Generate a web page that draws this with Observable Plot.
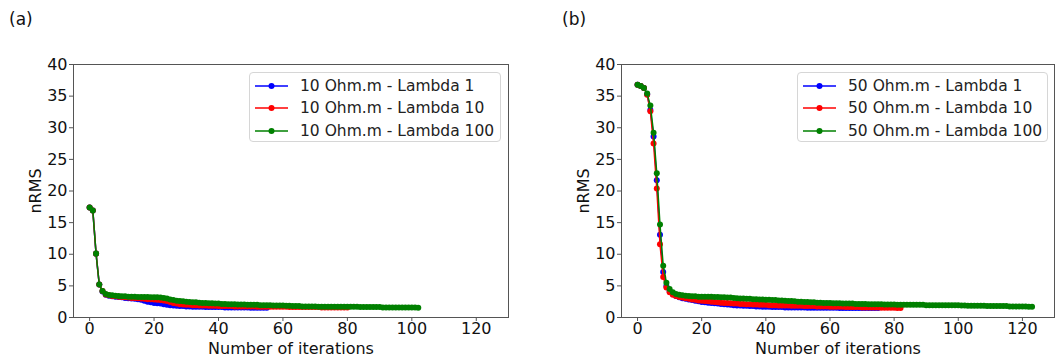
<!DOCTYPE html>
<html>
<head>
<meta charset="utf-8">
<script src="https://cdn.jsdelivr.net/npm/d3@7"></script>
<script src="https://cdn.jsdelivr.net/npm/@observablehq/plot@0.6"></script>
<style>
  body { margin: 0; background: #fff; font-family: "DejaVu Sans", sans-serif; }
  #wrap { position: relative; width: 1055px; height: 363px; overflow: hidden; }
  .panel { position: absolute; top: 0; }
  .tag { position: absolute; top: 9px; font-size: 17px; color: #111; }
  .legend { position: absolute; top: 72px; height: 70px; border: 1px solid #d6d6d6; border-radius: 4px;
            background: rgba(255,255,255,0.85); box-sizing: border-box; padding-top: 1.5px; }
  .row { height: 22.5px; display: flex; align-items: center; font-size: 15.5px; color: #222; white-space: nowrap; }
  .row svg { margin-left: 5px; margin-right: 12px; }
</style>
</head>
<body>
<div id="wrap"></div>
<script>
// ---- data: nRMS per iteration (index = iteration number) ----
const aBlue = [17.4, 16.9, 10.1, 5.2, 4.1, 3.6, 3.45, 3.35, 3.3, 3.25, 3.2,
  3.1, 3.05, 3.0, 2.95, 2.9, 2.8, 2.65, 2.5, 2.4, 2.3,
  2.25, 2.2, 2.1, 2.0, 1.95, 1.9, 1.85, 1.8, 1.8, 1.75,
  1.75, 1.7, 1.7, 1.7, 1.7, 1.65, 1.65, 1.65, 1.65, 1.65,
  1.65, 1.6, 1.6, 1.6, 1.6, 1.6, 1.6, 1.6, 1.6, 1.55,
  1.55, 1.55, 1.55, 1.55, 1.55];
const aRed = [17.4, 16.9, 10.1, 5.2, 4.2, 3.65, 3.5, 3.4, 3.35, 3.3, 3.25,
  3.2, 3.15, 3.1, 3.1, 3.05, 3.0, 2.95, 2.9, 2.9, 2.85,
  2.8, 2.75, 2.7, 2.6, 2.45, 2.3, 2.2, 2.1, 2.05, 2.0,
  2.0, 1.95, 1.95, 1.9, 1.9, 1.9, 1.85, 1.85, 1.85, 1.8,
  1.8, 1.8, 1.8, 1.8, 1.75, 1.75, 1.75, 1.75, 1.75, 1.75,
  1.75, 1.7, 1.7, 1.7, 1.7, 1.7, 1.7, 1.7, 1.7, 1.7,
  1.7, 1.65, 1.65, 1.65, 1.65, 1.65, 1.65, 1.65, 1.65, 1.65,
  1.65, 1.6, 1.6, 1.6, 1.6, 1.6, 1.6, 1.6, 1.6, 1.6];
const aGreen = [17.4, 16.9, 10.1, 5.2, 4.2, 3.7, 3.55, 3.5, 3.45, 3.4, 3.35,
  3.35, 3.3, 3.3, 3.3, 3.25, 3.25, 3.25, 3.25, 3.2, 3.2,
  3.2, 3.15, 3.1, 3.0, 2.85, 2.75, 2.65, 2.6, 2.55, 2.5,
  2.45, 2.4, 2.4, 2.35, 2.3, 2.3, 2.25, 2.25, 2.2, 2.2,
  2.15, 2.15, 2.1, 2.1, 2.1, 2.05, 2.05, 2.05, 2.0, 2.0,
  2.0, 2.0, 1.95, 1.95, 1.95, 1.95, 1.9, 1.9, 1.9, 1.9,
  1.85, 1.85, 1.8, 1.8, 1.8, 1.75, 1.75, 1.75, 1.75, 1.75,
  1.7, 1.7, 1.7, 1.7, 1.7, 1.7, 1.7, 1.7, 1.7, 1.7,
  1.7, 1.7, 1.7, 1.65, 1.65, 1.65, 1.65, 1.65, 1.65, 1.65,
  1.6, 1.6, 1.6, 1.6, 1.6, 1.6, 1.6, 1.6, 1.6, 1.6,
  1.6, 1.55];
const bBlue = [36.8, 36.6, 36.3, 35.3, 32.8, 28.6, 21.7, 13.1, 7.2, 5.0, 4.2,
  3.7, 3.4, 3.2, 3.05, 2.95, 2.85, 2.75, 2.65, 2.55, 2.45,
  2.4, 2.35, 2.3, 2.25, 2.2, 2.15, 2.1, 2.05, 2.0, 1.95,
  1.9, 1.9, 1.85, 1.85, 1.8, 1.8, 1.75, 1.75, 1.7, 1.7,
  1.7, 1.65, 1.65, 1.65, 1.65, 1.6, 1.6, 1.6, 1.6, 1.6,
  1.6, 1.6, 1.55, 1.55, 1.55, 1.55, 1.55, 1.55, 1.55, 1.55,
  1.55, 1.55, 1.5, 1.5, 1.5, 1.5, 1.5, 1.5, 1.5, 1.5,
  1.5, 1.5, 1.5, 1.5, 1.5];
const bRed = [36.8, 36.6, 36.3, 35.2, 32.6, 27.5, 20.4, 11.6, 6.4, 4.75, 4.0,
  3.6, 3.4, 3.25, 3.15, 3.05, 2.95, 2.85, 2.8, 2.7, 2.65,
  2.6, 2.55, 2.5, 2.45, 2.4, 2.35, 2.3, 2.3, 2.25, 2.2,
  2.2, 2.15, 2.15, 2.1, 2.1, 2.05, 2.05, 2.0, 2.0, 2.0,
  1.95, 1.95, 1.95, 1.9, 1.9, 1.9, 1.9, 1.85, 1.85, 1.85,
  1.85, 1.8, 1.8, 1.8, 1.8, 1.75, 1.75, 1.75, 1.75, 1.7,
  1.7, 1.7, 1.7, 1.7, 1.65, 1.65, 1.65, 1.65, 1.65, 1.6,
  1.6, 1.6, 1.6, 1.6, 1.6, 1.55, 1.55, 1.55, 1.55, 1.55,
  1.5, 1.5];
const bGreen = [36.8, 36.6, 36.3, 35.4, 33.5, 29.2, 22.8, 14.7, 8.2, 5.5, 4.5,
  4.0, 3.7, 3.6, 3.5, 3.45, 3.4, 3.35, 3.35, 3.3, 3.3,
  3.3, 3.3, 3.3, 3.25, 3.25, 3.2, 3.2, 3.15, 3.15, 3.1,
  3.05, 3.0, 3.0, 2.95, 2.95, 2.9, 2.9, 2.85, 2.85, 2.8,
  2.8, 2.75, 2.75, 2.7, 2.7, 2.65, 2.6, 2.6, 2.55, 2.5,
  2.5, 2.45, 2.45, 2.4, 2.4, 2.35, 2.35, 2.3, 2.3, 2.3,
  2.25, 2.25, 2.25, 2.2, 2.2, 2.2, 2.2, 2.15, 2.15, 2.15,
  2.15, 2.1, 2.1, 2.1, 2.1, 2.1, 2.05, 2.05, 2.05, 2.05,
  2.0, 2.0, 2.0, 2.0, 2.0, 2.0, 2.0, 2.0, 2.0, 1.95,
  1.95, 1.95, 1.95, 1.95, 1.95, 1.95, 1.95, 1.95, 1.95, 1.95,
  1.9, 1.9, 1.85, 1.85, 1.85, 1.85, 1.85, 1.85, 1.8, 1.8,
  1.8, 1.8, 1.8, 1.8, 1.8, 1.75, 1.75, 1.75, 1.75, 1.75,
  1.75, 1.7, 1.7];

const labelsA = ["10 Ohm.m - Lambda 1", "10 Ohm.m - Lambda 10", "10 Ohm.m - Lambda 100"];
const labelsB = ["50 Ohm.m - Lambda 1", "50 Ohm.m - Lambda 10", "50 Ohm.m - Lambda 100"];
const seriesColors = ["blue", "red", "green"];
const xTicks = [0, 20, 40, 60, 80, 100, 120];
const yTicks = [0, 5, 10, 15, 20, 25, 30, 35, 40];
const panelTags = ["(a)", "(b)"];
const xTitle = "Number of iterations";
const yTitle = "nRMS";

const rows = (vals) => vals.map((v, i) => ({iter: i, nrms: v}));
const wrap = document.getElementById("wrap");

function panel(seriesList, left, width, mLeft, mRight) {
  const marks = [];
  seriesList.forEach((vals, k) => {
    const data = rows(vals);
    marks.push(Plot.line(data, {x: "iter", y: "nrms", stroke: seriesColors[k], strokeWidth: 1.5}));
    marks.push(Plot.dot(data, {x: "iter", y: "nrms", fill: seriesColors[k], r: 3, stroke: "none"}));
  });
  marks.push(Plot.frame({stroke: "#555", strokeWidth: 1}));
  marks.push(Plot.axisX(xTicks, {tickSize: 4, tickPadding: 1.5, fontSize: 16, stroke: "#555", fill: "#111",
    label: xTitle, labelAnchor: "center", labelArrow: "none", labelOffset: 36}));
  marks.push(Plot.axisY(yTicks, {tickSize: 4, tickPadding: 2, fontSize: 16, stroke: "#555", fill: "#111",
    label: yTitle, labelAnchor: "center", labelArrow: "none", labelOffset: 44}));
  const chart = Plot.plot({
    width, height: 363,
    marginLeft: mLeft, marginRight: mRight, marginTop: 64, marginBottom: 46,
    style: {fontFamily: "DejaVu Sans", fontSize: "16px", color: "#111", background: "white", overflow: "visible"},
    x: {domain: [-5, 130]},
    y: {domain: [0, 40]},
    marks
  });
  chart.classList.add("panel");
  chart.style.left = left + "px";
  wrap.appendChild(chart);
}

panel([aBlue, aRed, aGreen], 0, 527, 73, 19);
panel([bBlue, bRed, bGreen], 527, 528, 94, 1);

function tag(text, left) {
  const d = document.createElement("div");
  d.className = "tag";
  d.textContent = text;
  d.style.left = left + "px";
  wrap.appendChild(d);
}
tag(panelTags[0], 9);
tag(panelTags[1], 562);

function legend(labels, left, width) {
  const box = document.createElement("div");
  box.className = "legend";
  box.style.left = left + "px";
  box.style.width = width + "px";
  labels.forEach((lab, k) => {
    const r = document.createElement("div");
    r.className = "row";
    const c = seriesColors[k];
    r.innerHTML = `<svg width="33" height="10"><line x1="0" y1="5" x2="33" y2="5" stroke="${c}" stroke-width="1.5"/><circle cx="16.5" cy="5" r="3" fill="${c}"/></svg>`;
    const s = document.createElement("span");
    s.textContent = lab;
    r.appendChild(s);
    box.appendChild(r);
  });
  wrap.appendChild(box);
}
legend(labelsA, 249, 252);
legend(labelsB, 797, 251);
</script>
</body>
</html>
